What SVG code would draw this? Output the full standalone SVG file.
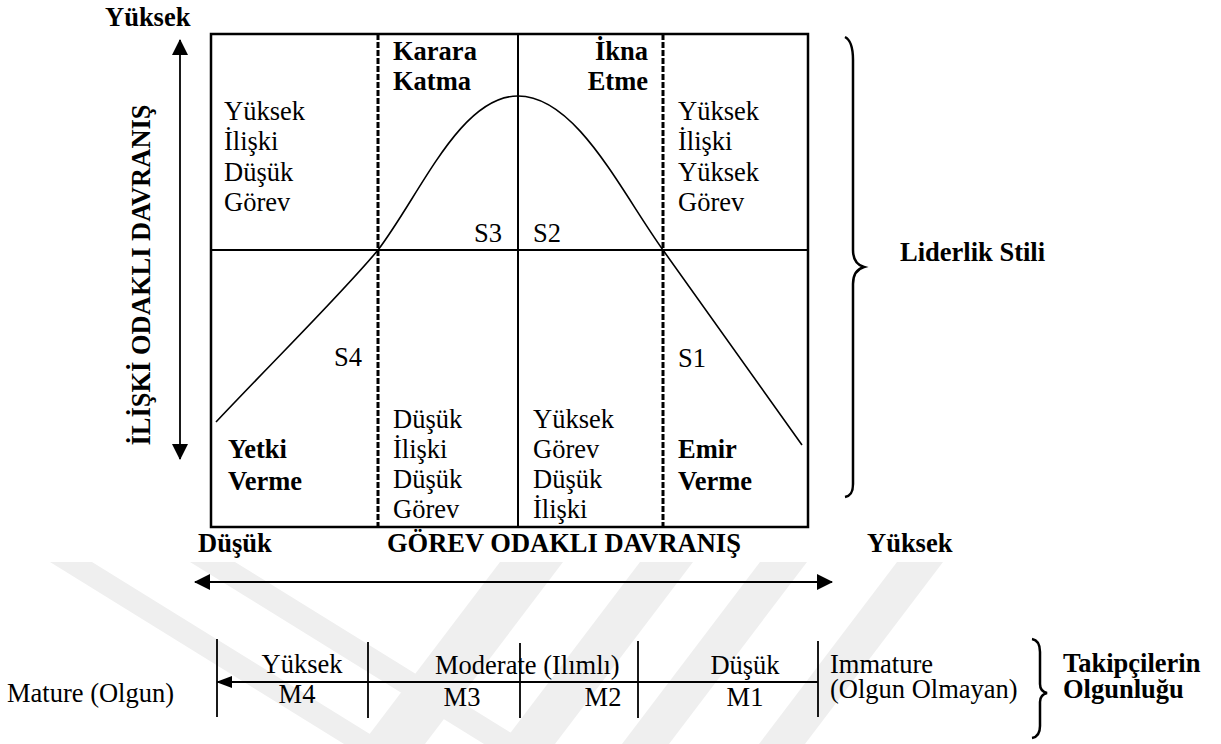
<svg xmlns="http://www.w3.org/2000/svg" width="1221" height="744" viewBox="0 0 1221 744" font-family="'Liberation Serif', 'Times New Roman', Tinos, 'DejaVu Serif', serif">
<style>
text{font-size:26.5px;fill:#000}
.b{font-weight:bold}
.m{text-anchor:middle}
.e{text-anchor:end}
.ln{stroke:#000;fill:none}
.wm{fill:#efefef;stroke:none}
</style>
<defs>
<marker id="ah" viewBox="0 0 16 16" refX="15" refY="8" markerWidth="16" markerHeight="16" markerUnits="userSpaceOnUse" orient="auto-start-reverse">
<path d="M0,0 L16,8 L0,16 Z" fill="#000"/>
</marker>
<marker id="ahs" viewBox="0 0 16 12" refX="15" refY="6" markerWidth="16" markerHeight="12" markerUnits="userSpaceOnUse" orient="auto-start-reverse">
<path d="M0,0 L16,6 L0,12 Z" fill="#000"/>
</marker>
</defs>
<rect width="1221" height="744" fill="#fff"/>
<g id="watermark">
<polygon class="wm" points="50,562 92,562 386,744 344,744"/>
<polygon class="wm" points="190,562 235,562 529,744 484,744"/>
<polygon class="wm" points="500,562 563,562 425,744 362,744"/>
<polygon class="wm" points="640,562 693,562 555,744 502,744"/>
<polygon class="wm" points="760,562 807,562 669,744 622,744"/>
<polygon class="wm" points="897,562 943,562 805,744 759,744"/>
</g>
<g id="grid">
<rect x="211" y="34" width="597" height="493" class="ln" stroke-width="2.5"/>
<line x1="211" y1="250" x2="808" y2="250" class="ln" stroke-width="2"/>
<line x1="518" y1="34" x2="518" y2="527" class="ln" stroke-width="2"/>
<line x1="378" y1="34" x2="378" y2="527" class="ln" stroke-width="3" stroke-dasharray="6 2"/>
<line x1="663" y1="34" x2="663" y2="527" class="ln" stroke-width="3" stroke-dasharray="6 2"/>
</g>
<g id="curve">
<path d="M216,422 C290,344 345,290 378,250 C420,195 460,96 518,96 C576,96 620,190 663,250 L802,445" class="ln" stroke-width="1.6"/>
</g>
<g id="connectors">
<line x1="180" y1="40" x2="180" y2="459" class="ln" stroke-width="1.8" marker-start="url(#ah)" marker-end="url(#ah)"/>
<line x1="195" y1="582" x2="832" y2="582" class="ln" stroke-width="1.8" marker-start="url(#ah)" marker-end="url(#ah)"/>
<line x1="818" y1="682" x2="217" y2="682" class="ln" stroke-width="1.8" marker-end="url(#ahs)"/>
<line x1="217" y1="639" x2="217" y2="717" class="ln" stroke-width="1.8"/>
<line x1="368" y1="642" x2="368" y2="718" class="ln" stroke-width="1.8"/>
<line x1="520" y1="643" x2="520" y2="718" class="ln" stroke-width="1.8"/>
<line x1="638" y1="641" x2="638" y2="718" class="ln" stroke-width="1.8"/>
<line x1="818" y1="641" x2="818" y2="717" class="ln" stroke-width="1.8"/>
<path d="M845,37 C851,40 853,48 853,60 L853,250 C853,260 857,265 864,267 C857,269 853,274 853,284 L853,484 C853,493 850,496 845,497" class="ln" stroke-width="2.5"/>
<path d="M1032,639 C1038,640 1040,645 1040,652 L1040,684 C1040,689 1043,692 1047,693 C1043,694 1040,697 1040,702 L1040,726 C1040,733 1038,737 1032,738" class="ln" stroke-width="2.5"/>
</g>
<g id="axis-labels">
<text x="105" y="26" class="b">Yüksek</text>
<text x="150" y="275" class="b m" transform="rotate(-90 150 275)">İLİŞKİ ODAKLI DAVRANIŞ</text>
<text x="198" y="552" class="b">Düşük</text>
<text x="387" y="552" class="b">GÖREV ODAKLI DAVRANIŞ</text>
<text x="867" y="552" class="b">Yüksek</text>
<text x="900" y="261" class="b">Liderlik Stili</text>
</g>
<g id="cell-top-left">
<text x="224" y="120">Yüksek</text>
<text x="224" y="150">İlişki</text>
<text x="224" y="181">Düşük</text>
<text x="224" y="211">Görev</text>
</g>
<g id="cell-karara">
<text x="393" y="60" class="b">Karara</text>
<text x="393" y="90" class="b">Katma</text>
<text x="502" y="242" class="e">S3</text>
</g>
<g id="cell-ikna">
<text x="648" y="60" class="b e">İkna</text>
<text x="648" y="90" class="b e">Etme</text>
<text x="533" y="242">S2</text>
</g>
<g id="cell-top-right">
<text x="678" y="120">Yüksek</text>
<text x="678" y="150">İlişki</text>
<text x="678" y="181">Yüksek</text>
<text x="678" y="211">Görev</text>
</g>
<g id="cell-yetki">
<text x="362" y="366" class="e">S4</text>
<text x="228" y="458" class="b">Yetki</text>
<text x="228" y="490" class="b">Verme</text>
</g>
<g id="cell-bottom-mid-left">
<text x="393" y="428">Düşük</text>
<text x="393" y="458">İlişki</text>
<text x="393" y="488">Düşük</text>
<text x="393" y="518">Görev</text>
</g>
<g id="cell-bottom-mid-right">
<text x="533" y="428">Yüksek</text>
<text x="533" y="458">Görev</text>
<text x="533" y="488">Düşük</text>
<text x="533" y="518">İlişki</text>
</g>
<g id="cell-emir">
<text x="678" y="367">S1</text>
<text x="678" y="458" class="b">Emir</text>
<text x="678" y="490" class="b">Verme</text>
</g>
<g id="maturity-scale">
<text x="7" y="702">Mature (Olgun)</text>
<text x="302" y="673" class="m">Yüksek</text>
<text x="297" y="703" class="m">M4</text>
<text x="435" y="674">Moderate (Ilımlı)</text>
<text x="462" y="706" class="m">M3</text>
<text x="603" y="706" class="m">M2</text>
<text x="745" y="674" class="m">Düşük</text>
<text x="745" y="706" class="m">M1</text>
<text x="830" y="673">Immature</text>
<text x="830" y="698">(Olgun Olmayan)</text>
<text x="1063" y="672" class="b">Takipçilerin</text>
<text x="1063" y="698" class="b">Olgunluğu</text>
</g>
</svg>
